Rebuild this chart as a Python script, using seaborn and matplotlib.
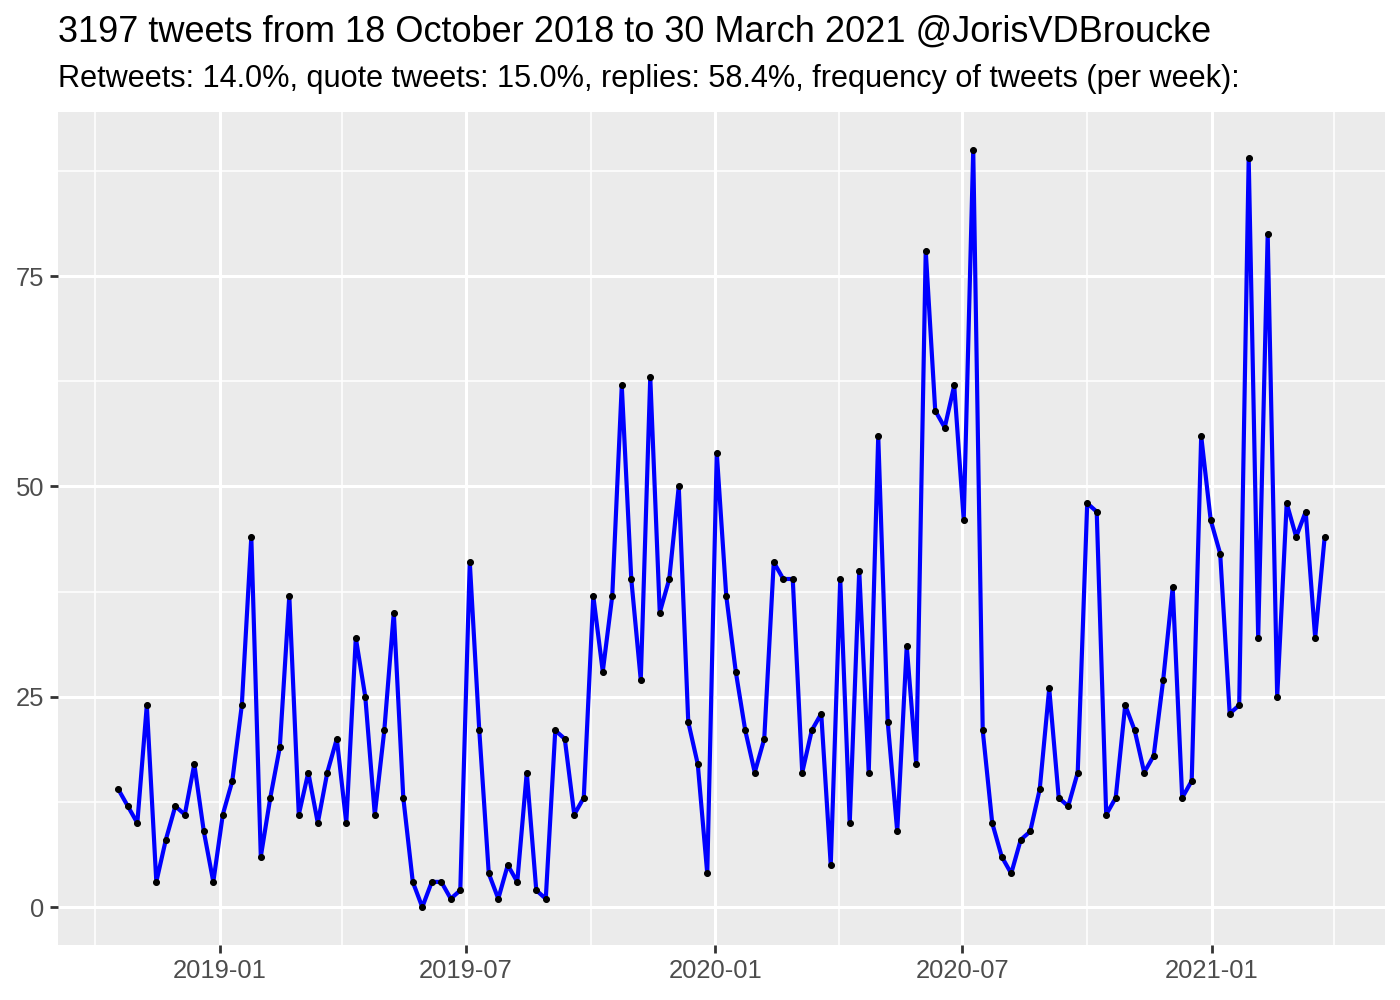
import pandas as pd
import matplotlib
matplotlib.use("Agg")
import matplotlib.pyplot as plt
import matplotlib.dates as mdates
import seaborn as sns

# Tweets por semana
tweets_semana = [
    14, 12, 10, 24, 3, 8, 12, 11, 17, 9,
    3, 11, 15, 24, 44, 6, 13, 19, 37, 11,
    16, 10, 16, 20, 10, 32, 25, 11, 21, 35,
    13, 3, 0, 3, 3, 1, 2, 41, 21, 4,
    1, 5, 3, 16, 2, 1, 21, 20, 11, 13,
    37, 28, 37, 62, 39, 27, 63, 35, 39, 50,
    22, 17, 4, 54, 37, 28, 21, 16, 20, 41,
    39, 39, 16, 21, 23, 5, 39, 10, 40, 16,
    56, 22, 9, 31, 17, 78, 59, 57, 62, 46,
    90, 21, 10, 6, 4, 8, 9, 14, 26, 13,
    12, 16, 48, 47, 11, 13, 24, 21, 16, 18,
    27, 38, 13, 15, 56, 46, 42, 23, 24, 89,
    32, 80, 25, 48, 44, 47, 32, 44,
]
inicio = "2018-10-18"
titulo = "3197 tweets from 18 October 2018 to 30 March 2021 @JorisVDBroucke"
subtitulo = ("Retweets: 14.0%, quote tweets: 15.0%, replies: 58.4%, "
             "frequency of tweets (per week):")
y_ticks = [0, 25, 50, 75]
y_minor = [12.5, 37.5, 62.5, 87.5]
x_ticks = ["2019-01-01", "2019-07-01", "2020-01-01", "2020-07-01", "2021-01-01"]
x_minor = ["2018-10-01", "2019-04-01", "2019-10-01", "2020-04-01",
           "2020-10-01", "2021-04-01"]

df = pd.DataFrame({
    "semana": pd.date_range(inicio, periods=len(tweets_semana), freq="7D"),
    "n": tweets_semana,
})

sns.set_style("darkgrid")
plt.rcParams["font.family"] = ["Liberation Sans", "DejaVu Sans"]

fig = plt.figure(figsize=(7, 5), dpi=200)
ax = fig.add_axes([58 / 1400, 1 - 945 / 1000, (1385 - 58) / 1400, (945 - 112) / 1000])
ax.set_facecolor("#EBEBEB")

sns.lineplot(data=df, x="semana", y="n", color="blue", linewidth=1.5, ax=ax)
sns.scatterplot(data=df, x="semana", y="n", color="black", s=4.5,
                edgecolor="black", linewidth=0.4, ax=ax, zorder=3)

ax.margins(x=0.05, y=0.05)
ax.set_ylim(-4.5, 94.5)

ax.set_yticks(y_ticks)
ax.set_yticks(y_minor, minor=True)
ax.set_xticks(pd.to_datetime(x_ticks))
ax.set_xticks(pd.to_datetime(x_minor), minor=True)
ax.xaxis.set_major_formatter(mdates.DateFormatter("%Y-%m"))

ax.grid(which="major", color="white", linewidth=1.1)
ax.grid(which="minor", color="white", linewidth=0.55)
ax.tick_params(which="major", bottom=True, left=True, length=2.75, width=1.0,
               color="#333333", labelsize=9.2, labelcolor="#4D4D4D", pad=2.2)
ax.tick_params(which="minor", length=0)
for s in ax.spines.values():
    s.set_visible(False)
ax.set_xlabel("")
ax.set_ylabel("")

fig.text(58 / 1400, 1 - 42 / 1000, titulo, fontsize=13.0, va="baseline",
         ha="left", color="black")
fig.text(58 / 1400, 1 - 87 / 1000, subtitulo, fontsize=11.05, va="baseline",
         ha="left", color="black")

fig.savefig("out.png", dpi=200)
